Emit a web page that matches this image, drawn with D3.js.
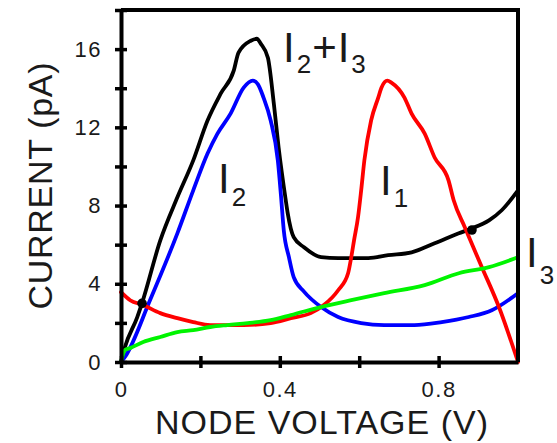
<!DOCTYPE html>
<html><head><meta charset="utf-8">
<script src="https://cdn.jsdelivr.net/npm/d3@7"></script>
<style>
body{margin:0;background:#fff}
svg{display:block;background:#fff}
text{font-family:"Liberation Sans",Arial,Helvetica,sans-serif;fill:#1a1a1a}
</style>
</head><body>
<svg id="chart" width="557" height="443"></svg>
<script>
// ---- data (node voltage in V, current in pA) ----
const i1Volt = [0,0.023,0.056,0.099,0.142,0.182,0.225,0.309,0.377,0.428,0.478,0.511,0.547,0.572,0.580,0.587,0.597,0.605,0.613,0.630,0.648,0.656,0.671,0.681,0.714,0.732,0.765,0.790,0.825,0.838,0.866,0.909,0.952,1.0];
const i1Curr = [3.57,3.16,2.91,2.5,2.24,2.04,1.89,1.89,1.99,2.24,2.5,2.91,3.67,4.54,5.36,6.22,7.4,8.78,10.31,12.35,13.52,14.03,14.39,14.29,13.52,12.7,11.68,10.46,9.29,8.27,6.89,4.85,2.81,0];

const i2Volt = [0,0.010,0.073,0.142,0.182,0.218,0.243,0.276,0.309,0.332,0.345,0.359,0.377,0.395,0.403,0.410,0.423,0.435,0.461,0.504,0.547,0.605,0.663,0.739,0.808,0.876,0.934,1.0];
const i2Curr = [0,0.26,3.16,6.58,8.78,10.66,11.68,12.7,14.03,14.39,14.2,13.52,12.35,10.31,8.5,6.73,5.36,4.34,3.6,2.81,2.30,1.99,1.89,1.89,2.04,2.30,2.65,3.52];

const i3Volt = [0,0.01,0.023,0.056,0.099,0.142,0.182,0.225,0.268,0.319,0.377,0.428,0.504,0.580,0.663,0.765,0.851,0.927,1.0];
const i3Curr = [0,0.61,0.71,1.02,1.28,1.53,1.63,1.79,1.89,1.99,2.14,2.40,2.81,3.16,3.52,3.93,4.54,4.85,5.36];

const sumVolt = [0,0.010,0.041,0.053,0.099,0.142,0.182,0.218,0.251,0.284,0.296,0.327,0.342,0.352,0.370,0.385,0.397,0.415,0.420,0.435,0.461,0.504,0.547,0.623,0.673,0.732,0.790,0.851,0.878,0.927,0.959,1.0];
const sumCurr = [0,0.77,2.30,3.01,6.22,8.42,10.31,12.35,13.72,14.9,15.82,16.43,16.53,16.28,15.56,13.21,10.97,8.27,7.6,6.38,5.87,5.36,5.31,5.31,5.46,5.61,6.07,6.58,6.79,7.24,7.76,8.78];

// operating points (intersections of I1 with I2+I3)
const dotVolt = [0.053, 0.884];
const dotCurr = [3.0, 6.75];

const xTickValues = [0,0.2,0.4,0.6,0.8];
const xTickLabels = ["0","","0.4","","0.8"];
const yTickValues = [0,2,4,6,8,10,12,14,16,18];
const yTickLabels = ["0","","4","","8","","12","","16",""];

const xTitle = "NODE VOLTAGE (V)";
const yTitle = "CURRENT (pA)";

// ---- layout ----
const svg = d3.select("#chart");
const L = 121, R = 518, T = 10, B = 362;
const x = d3.scaleLinear().domain([0,1]).range([L,R]);
const y = d3.scaleLinear().domain([0,18]).range([B,T]);

const zip = (vs, cs) => vs.map((v,i)=>[v, cs[i]]);
const line = d3.line().x(d=>x(d[0])).y(d=>y(d[1])).curve(d3.curveMonotoneX);

const series = [
  {pts: zip(sumVolt,sumCurr), color:"#000000"},
  {pts: zip(i2Volt,i2Curr),  color:"#0000ff"},
  {pts: zip(i1Volt,i1Curr),  color:"#ff0000"},
  {pts: zip(i3Volt,i3Curr),  color:"#00f400"}
];

// curves
svg.append("g").selectAll("path").data(series).join("path")
  .attr("d", d=>line(d.pts))
  .attr("fill","none")
  .attr("stroke", d=>d.color)
  .attr("stroke-width",3.8)
  .attr("stroke-linejoin","round")
  .attr("stroke-linecap","round");

// frame
svg.append("path")
  .attr("d", `M${L},${T}H${R}V${B}`)
  .attr("fill","none").attr("stroke","#000").attr("stroke-width",4);

// axes
const xAxis = d3.axisBottom(x).tickValues(xTickValues)
  .tickFormat((d,i)=>xTickLabels[i]).tickSizeInner(6).tickSizeOuter(0).tickPadding(13);
const yAxis = d3.axisLeft(y).tickValues(yTickValues)
  .tickFormat((d,i)=>yTickLabels[i]).tickSizeInner(6).tickSizeOuter(0).tickPadding(13);

const gx = svg.append("g").attr("transform",`translate(0,${B})`).call(xAxis);
const gy = svg.append("g").attr("transform",`translate(${L},0)`).call(yAxis);

[gx, gy].forEach(g=>{
  g.select(".domain").attr("stroke","#000").attr("stroke-width",4);
  g.selectAll(".tick line").attr("stroke","#000").attr("stroke-width",3.5);
  g.selectAll(".tick text").attr("font-size",22).attr("fill","#1a1a1a")
    .attr("font-family",'"Liberation Sans",Arial,sans-serif').style("letter-spacing","1.5px");
});
gx.selectAll(".tick line").attr("y1",-6).attr("y2",6);
gy.selectAll(".tick line").attr("x1",-6).attr("x2",6);

// dots
svg.append("g").selectAll("circle").data(zip(dotVolt,dotCurr)).join("circle")
  .attr("cx",d=>x(d[0])).attr("cy",d=>y(d[1])).attr("r",4.8).attr("fill","#000");

// axis titles
svg.append("text").attr("x",(L+R)/2+2).attr("y",434).attr("text-anchor","middle")
  .attr("font-size",34).attr("textLength",333).attr("lengthAdjust","spacing").text(xTitle);
svg.append("text").attr("transform","translate(52,186) rotate(-90)").attr("text-anchor","middle")
  .attr("font-size",34).attr("textLength",247).attr("lengthAdjust","spacing").text(yTitle);

// curve labels: I with subscript
function label(x0, base, parts){
  const t = svg.append("text").attr("x",x0).attr("y",base).attr("font-size",42);
  parts.forEach(p=>{
    const s = t.append("tspan").text(p.t);
    if(p.sub){ s.attr("font-size",26).attr("dy",p.dy); }
    else if(p.dy){ s.attr("dy",p.dy); }
    if(p.dx) s.attr("dx",p.dx);
  });
}
label(283, 62, [{t:"I"},{t:"2",sub:true,dy:11,dx:2},{t:"+",dy:-11,dx:1},{t:"I",dx:1},{t:"3",sub:true,dy:11,dx:2}]);
label(218, 193, [{t:"I"},{t:"2",sub:true,dy:13,dx:2}]);
label(380, 195, [{t:"I"},{t:"1",sub:true,dy:12,dx:2}]);
label(526, 267, [{t:"I"},{t:"3",sub:true,dy:17,dx:2}]);
</script>
</body></html>
